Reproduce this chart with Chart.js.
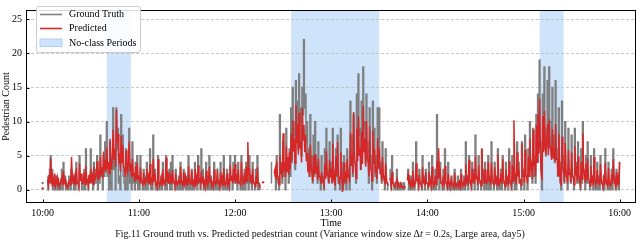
<!DOCTYPE html>
<html><head><meta charset="utf-8">
<script src="https://cdn.jsdelivr.net/npm/chart.js@4"></script>
<style>html,body{margin:0;padding:0;background:#fff;}canvas{display:block;}</style>
</head><body>
<canvas id="c" width="640" height="241"></canvas>
<script>
// samples every half minute, starting at 10:00 (x = minutes after 10:00)
const sampleStep = 0.5;
const hourTicks = [0, 60, 120, 180, 240, 300, 360];
const hourLabels = ['10:00', '11:00', '12:00', '13:00', '14:00', '15:00', '16:00'];
const yTicks = [0, 5, 10, 15, 20, 25];
const noClassPeriods = [[40, 55], [155, 210], [310, 325]];

// one row = 5 minutes
const groundTruth = [
  1, null, null, null, null, null, 2, 0, 1, 3,
  5, 1, 3, 0, 1, 2, 0, 1, 2, 0,
  1, 0, 0, 1, 3, 0, 4, 1, 2, 0,
  1, 0, 0, 2, 2, 0, 3, 1, 1, 0,
  2, 0, 4, 1, 1, 0, 5, 2, 2, 0,
  0, 1, 3, 0, 6, 1, 1, 0, 2, 1,
  6, 1, 2, 0, 4, 1, 1, 3, 5, 0,
  3, 1, 8, 2, 2, 0, 5, 2, 7, 3,
  10, 2, 3, 0, 7, 1, 0, 4, 12, 3,
  5, 0, 12, 6, 9, 1, 2, 0, 11, 4,
  8, 2, 1, 0, 6, 3, 0, 2, 9, 1,
  3, 0, 7, 1, 2, 0, 4, 1, 5, 0,
  2, 0, 5, 1, 1, 0, 3, 1, 0, 2,
  4, 0, 2, 1, 6, 0, 1, 0, 8, 2,
  3, 0, 1, 0, 5, 1, 0, 1, 2, 0,
  4, 1, 1, 0, 5, 0, 2, 1, 3, 0,
  4, 0, 5, 1, 1, 0, 3, 1, 0, 1,
  2, 0, 4, 0, 1, 0, 3, 1, 2, 0,
  2, 0, 5, 1, 0, 1, 3, 0, 1, 0,
  4, 1, 2, 0, 5, 1, 1, 0, 6, 1,
  3, 0, 1, 0, 4, 1, 0, 2, 5, 0,
  2, 0, 1, 0, 4, 1, 0, 1, 3, 0,
  1, 0, 4, 1, 2, 0, 5, 1, 0, 1,
  3, 0, 1, 0, 5, 2, 2, 0, 4, 1,
  5, 1, 2, 0, 4, 1, 1, 0, 5, 2,
  0, 1, 3, 0, 4, 1, 2, 0, 5, 1,
  2, 0, 4, 1, 1, 0, 3, 1, 5, 0,
  1, 0, null, null, null, null, null, null, null, null,
  null, null, null, null, null, 4, 1, null, null, 2,
  3, 0, 5, 2, 1, 0, 11, 3, 4, 1,
  7, 2, 3, 0, 9, 3, 4, 1, 6, 2,
  12, 4, 15, 8, 10, 3, 16, 9, 13, 6,
  17, 10, 12, 5, 15, 11, 22, 12, 14, 7,
  10, 4, 6, 2, 11, 5, 3, 1, 8, 2,
  10, 3, 4, 1, 7, 2, 2, 0, 5, 2,
  1, 0, 6, 2, 9, 3, 3, 1, 7, 2,
  4, 1, 9, 3, 2, 0, 6, 2, 8, 1,
  1, 0, 9, 4, 3, 0, 5, 1, 2, 0,
  6, 2, 3, 0, 13, 5, 8, 2, 11, 4,
  4, 1, 14, 7, 17, 8, 9, 3, 13, 6,
  18, 9, 10, 4, 14, 7, 6, 1, 12, 5,
  3, 0, 13, 6, 9, 2, 5, 1, 12, 4,
  12, 3, 4, 1, 7, 2, 2, 0, 6, 1,
  1, 0, null, 3, 2, 0, 5, 1, 1, 0,
  0, 1, 3, 0, 1, 0, 0, 1, 1, 0,
  0, 1, 0, null, null, 2, 3, 0, 1, 0,
  2, 0, 4, 1, 0, 1, 7, 2, 2, 0,
  3, 1, 1, 0, 5, 1, 2, 0, 3, 1,
  1, 0, 4, 1, 2, 0, 5, 1, 0, 1,
  3, 0, 11, 2, 2, 0, 4, 1, 1, 0,
  3, 0, 6, 1, 1, 0, 4, 1, 0, 1,
  2, 0, 1, 0, 3, 1, 0, 1, 2, 0,
  1, 0, 3, 0, 0, 1, 2, 0, 7, 1,
  2, 0, 5, 1, 1, 0, 4, 1, 3, 0,
  8, 2, 2, 0, 5, 1, 1, 0, 6, 1,
  3, 0, 4, 1, 0, 1, 5, 0, 2, 0,
  7, 1, 1, 0, 4, 1, 2, 0, 6, 1,
  0, 1, 3, 0, 5, 1, 1, 0, 4, 1,
  2, 0, 6, 1, 1, 0, 5, 1, 3, 0,
  2, 0, 7, 2, 4, 1, 1, 0, 7, 2,
  3, 0, 8, 2, 2, 0, 6, 2, 10, 3,
  4, 1, 9, 2, 5, 1, 11, 4, 14, 6,
  19, 7, 3, 0, 14, 6, 18, 9, 5, 8,
  16, 7, 18, 10, 10, 5, 15, 6, 8, 4,
  16, 6, 6, 2, 12, 4, 1, 0, 13, 5,
  4, 1, 10, 2, 2, 0, 9, 3, 3, 1,
  8, 2, 2, 0, 9, 3, 4, 1, 7, 2,
  1, 0, 6, 1, 10, 3, 3, 0, 5, 1,
  7, 1, 1, 0, 5, 2, 2, 0, 6, 1,
  0, 1, 4, 0, 2, 0, 5, 1, 1, 0,
  2, 0, 6, 1, 1, 0, 4, 1, 0, 1,
  3, 0, 6, 2, 1, 0, 3, 1, 2, 0,
  4
];

const predicted = [
  0.2, null, null, null, null, null, 1.5, 0.7, 2.2, 1.0,
  4.6, 1.3, 2.0, 0.6, 1.2, 2.4, 0.6, 1.1, 1.8, 0.5,
  1.2, 0.4, 0.8, 1.6, 2.1, 0.7, 2.8, 1.1, 1.5, 0.6,
  0.7, 0.3, 0.5, 1.2, 1.6, 0.6, 4.8, 1.4, 1.9, 0.8,
  1.8, 0.6, 3.2, 1.0, 1.1, 0.5, 3.9, 1.3, 2.4, 0.9,
  0.9, 1.5, 2.6, 0.8, 3.5, 1.2, 1.4, 0.6, 2.2, 1.0,
  3.1, 1.1, 2.0, 0.8, 3.4, 1.4, 1.6, 2.5, 4.2, 1.5,
  2.8, 1.6, 4.9, 2.2, 3.3, 1.7, 5.6, 2.8, 4.4, 2.5,
  6.2, 3.1, 4.1, 2.4, 7.5, 3.8, 3.0, 5.2, 8.8, 4.5,
  6.0, 3.4, 11.7, 7.0, 8.2, 3.9, 4.6, 2.7, 7.9, 4.1,
  6.5, 3.3, 3.2, 1.9, 5.8, 3.0, 2.5, 4.1, 7.1, 2.8,
  3.9, 1.8, 4.6, 2.2, 2.3, 1.2, 3.4, 1.5, 4.0, 1.6,
  2.1, 0.9, 3.3, 1.4, 1.2, 0.6, 2.5, 1.1, 0.8, 1.7,
  3.1, 1.0, 1.9, 0.8, 3.8, 1.2, 1.5, 0.7, 4.6, 1.3,
  2.4, 0.8, 1.0, 0.5, 4.5, 1.4, 0.6, 1.0, 1.8, 0.7,
  3.0, 1.1, 1.3, 0.6, 4.7, 1.2, 2.0, 0.9, 2.6, 1.0,
  2.2, 0.8, 2.9, 1.2, 1.1, 0.6, 2.4, 1.0, 0.7, 1.3,
  1.6, 0.7, 3.4, 1.1, 1.2, 0.5, 2.6, 1.0, 1.9, 0.8,
  1.7, 0.6, 3.5, 1.2, 0.9, 1.4, 2.8, 0.9, 1.3, 0.6,
  3.1, 1.0, 1.8, 0.7, 3.6, 1.3, 1.5, 0.8, 2.7, 1.1,
  2.0, 0.7, 1.2, 0.5, 2.8, 1.0, 0.6, 1.5, 3.4, 1.2,
  1.7, 0.6, 1.0, 0.5, 3.0, 1.1, 0.8, 1.3, 2.3, 0.9,
  1.4, 0.6, 2.6, 1.0, 1.8, 0.7, 3.2, 1.2, 0.7, 1.1,
  2.4, 0.9, 1.3, 0.6, 3.6, 1.4, 2.0, 1.0, 3.1, 1.3,
  3.8, 1.5, 1.9, 0.9, 3.0, 1.2, 1.2, 0.7, 4.1, 1.6,
  0.9, 1.4, 2.5, 1.0, 3.4, 1.3, 7.0, 2.1, 3.2, 1.1,
  2.2, 0.8, 3.1, 1.2, 1.0, 0.5, 2.0, 0.9, 3.3, 1.0,
  0.8, 0.5, null, null, null, 1.1, null, null, null, null,
  null, null, null, null, null, null, null, null, null, 2.4,
  3.0, 1.4, 4.2, 2.0, 1.6, 0.8, 5.1, 2.3, 3.8, 1.7,
  8.3, 3.2, 3.6, 1.9, 6.4, 2.7, 4.8, 2.2, 5.5, 3.0,
  8.1, 4.3, 10.2, 5.6, 7.4, 3.9, 12.4, 6.8, 9.6, 5.2,
  11.3, 6.1, 7.2, 4.0, 12.0, 7.3, 9.5, 5.5, 8.0, 4.2,
  5.4, 2.6, 3.8, 1.9, 6.6, 3.1, 2.4, 1.2, 5.0, 2.2,
  5.2, 2.4, 3.4, 1.5, 4.6, 2.0, 1.8, 0.9, 2.6, 1.3,
  1.2, 0.7, 3.8, 1.6, 5.7, 2.3, 2.0, 1.0, 4.4, 1.8,
  3.2, 1.2, 6.8, 2.7, 1.5, 0.6, 4.9, 2.0, 7.0, 2.4,
  0.8, 1.8, 5.5, 2.1, -0.3, 1.2, 4.0, 1.6, 2.1, 0.9,
  4.5, 1.9, 2.2, 1.1, 8.4, 3.5, 5.1, 2.4, 11.4, 4.8,
  3.6, 1.7, 9.0, 4.2, 10.8, 5.0, 6.2, 2.9, 8.5, 3.8,
  12.3, 5.6, 7.5, 3.4, 10.1, 4.6, 4.2, 2.0, 9.3, 3.9,
  2.8, 1.3, 8.7, 3.8, 6.0, 2.5, 3.5, 1.6, 7.6, 3.1,
  6.1, 2.4, 3.0, 1.3, 4.8, 2.0, 1.5, 0.8, 3.9, 1.5,
  1.0, 0.6, null, 1.8, 1.3, 0.6, 2.6, 1.0, 0.7, 0.4,
  0.6, 1.2, 1.8, 0.5, 0.9, 0.4, 0.4, 0.8, 0.5, 0.3,
  0.3, 0.5, 0.4, null, null, 1.4, 2.2, 0.8, 1.5, 0.6,
  1.2, 0.5, 2.8, 1.0, 0.6, 1.3, 3.9, 1.4, 1.5, 0.6,
  2.2, 0.9, 0.8, 0.4, 3.3, 1.2, 1.4, 0.6, 2.5, 1.0,
  0.9, 0.5, 2.6, 1.0, 1.3, 0.6, 3.4, 1.2, 0.5, 1.0,
  2.1, 0.8, 4.2, 1.6, 6.1, 2.2, 2.7, 1.0, 1.2, 0.6,
  2.0, 0.7, 3.5, 1.3, 0.8, 0.4, 2.4, 1.0, 0.5, 1.1,
  1.6, 0.6, 0.7, 0.4, 2.5, 0.9, 0.4, 0.8, 1.2, 0.5,
  1.1, 0.5, 2.3, 0.8, 0.5, 1.0, 1.4, 0.6, 3.8, 1.3,
  1.7, 0.7, 4.4, 1.6, 1.0, 0.5, 3.1, 1.2, 2.4, 0.9,
  4.9, 1.7, 1.8, 0.7, 3.6, 1.4, 1.3, 0.6, 6.0, 2.0,
  2.2, 0.9, 3.0, 1.1, 0.9, 1.5, 4.1, 1.3, 1.7, 0.7,
  4.0, 1.4, 1.2, 0.6, 3.3, 1.2, 1.6, 0.7, 5.2, 1.8,
  0.8, 1.3, 2.4, 0.9, 4.5, 1.6, 1.1, 0.5, 3.0, 1.1,
  1.5, 0.6, 4.2, 1.5, 1.0, 0.5, 3.6, 1.3, 10.2, 2.6,
  1.8, 0.8, 5.5, 2.0, 3.1, 1.2, 1.4, 0.7, 6.8, 2.3,
  2.2, 1.0, 5.9, 2.1, 1.9, 0.9, 4.8, 2.0, 7.5, 2.9,
  3.6, 1.6, 8.8, 3.4, 4.2, 2.0, 9.5, 4.1, 11.0, 5.3,
  13.3, 6.2, 2.5, 1.4, 10.8, 5.5, 11.6, 6.4, 5.2, 7.0,
  9.7, 5.1, 10.4, 6.2, 6.0, 4.4, 8.9, 4.6, 5.4, 4.2,
  9.6, 4.5, 4.5, 2.1, 8.2, 3.6, 1.3, 0.6, 7.8, 3.2,
  2.6, 1.2, 6.9, 2.8, 1.9, 0.9, 5.8, 2.3, 2.4, 1.1,
  5.5, 2.0, 1.8, 0.8, 6.4, 2.5, 3.0, 1.3, 4.9, 1.9,
  1.2, 0.6, 4.1, 1.6, 8.3, 2.9, 2.5, 1.0, 3.8, 1.4,
  4.6, 1.7, 1.4, 0.6, 3.5, 1.3, 1.7, 0.7, 4.8, 1.6,
  0.7, 1.2, 2.9, 1.0, 1.5, 0.6, 3.8, 1.3, 1.0, 0.5,
  1.6, 0.7, 4.0, 1.4, 0.8, 0.5, 3.2, 1.1, 0.6, 1.0,
  2.3, 0.9, 4.5, 1.6, 1.0, 0.5, 2.6, 1.0, 1.8, 0.7,
  4.1
];

const FONT = 'Liberation Serif, Times New Roman, serif';
const GRAY = '#7f7f7f', RED = '#d62728', BAND = '#cfe4fa';

function isolatedRadius(arr) {
  return ctx => {
    const i = ctx.dataIndex;
    return (arr[i] != null && arr[i - 1] == null && arr[i + 1] == null) ? 1.2 : 0;
  };
}

const decor = {
  id: 'decor',
  beforeDraw(chart) {
    const { ctx, chartArea: a, scales: { x } } = chart;
    ctx.save();
    ctx.fillStyle = BAND;
    noClassPeriods.forEach(([s, e]) => {
      const x0 = x.getPixelForValue(s), x1 = x.getPixelForValue(e);
      ctx.fillRect(x0, a.top, x1 - x0, a.bottom - a.top);
    });
    ctx.restore();
  },
  afterDraw(chart) {
    const { ctx, chartArea: a, scales: { x, y } } = chart;
    ctx.save();
    ctx.strokeStyle = '#000';
    ctx.lineWidth = 1;
    ctx.strokeRect(Math.round(a.left) + 0.5, Math.round(a.top) + 0.5,
      Math.round(a.right - a.left) - 1, Math.round(a.bottom - a.top) - 1);
    ctx.beginPath();
    hourTicks.forEach(v => {
      const px = Math.round(x.getPixelForValue(v)) + 0.5;
      ctx.moveTo(px, a.bottom); ctx.lineTo(px, a.bottom - 3.5);
    });
    yTicks.forEach(v => {
      const py = Math.round(y.getPixelForValue(v)) + 0.5;
      ctx.moveTo(a.left, py); ctx.lineTo(a.left + 3.5, py);
    });
    ctx.stroke();

    const lx = 36.5, ly = 6.5, lw = 104, lh = 46, r = 2.5;
    ctx.beginPath();
    ctx.moveTo(lx + r, ly);
    ctx.arcTo(lx + lw, ly, lx + lw, ly + lh, r);
    ctx.arcTo(lx + lw, ly + lh, lx, ly + lh, r);
    ctx.arcTo(lx, ly + lh, lx, ly, r);
    ctx.arcTo(lx, ly, lx + lw, ly, r);
    ctx.closePath();
    ctx.fillStyle = 'rgba(255,255,255,0.85)';
    ctx.fill();
    ctx.strokeStyle = '#cccccc';
    ctx.lineWidth = 1;
    ctx.stroke();
    ctx.lineWidth = 1.6;
    ctx.strokeStyle = GRAY;
    ctx.beginPath(); ctx.moveTo(40, 14.5); ctx.lineTo(62, 14.5); ctx.stroke();
    ctx.strokeStyle = RED;
    ctx.beginPath(); ctx.moveTo(40, 28.5); ctx.lineTo(62, 28.5); ctx.stroke();
    ctx.fillStyle = BAND;
    ctx.fillRect(40, 39, 22, 7.5);
    ctx.strokeStyle = '#9fc8ee';
    ctx.lineWidth = 0.8;
    ctx.strokeRect(40, 39, 22, 7.5);
    ctx.fillStyle = '#000';
    ctx.font = '10px ' + FONT;
    ctx.textBaseline = 'middle';
    ctx.textAlign = 'left';
    ctx.fillText('Ground Truth', 69, 14.5);
    ctx.fillText('Predicted', 69, 28.5);
    ctx.fillText('No-class Periods', 69, 43);

    const p1 = 'Fig.11 Ground truth vs. Predicted pedestrian count (Variance window size \u0394';
    const p2 = 't';
    const p3 = ' = 0.2s, Large area, day5)';
    const fN = '10px ' + FONT, fI = 'italic 10px ' + FONT;
    ctx.font = fN; const w1 = ctx.measureText(p1).width, w3 = ctx.measureText(p3).width;
    ctx.font = fI; const w2 = ctx.measureText(p2).width;
    let cx = 320 - (w1 + w2 + w3) / 2;
    const cy = 234.5;
    ctx.fillStyle = '#111';
    ctx.font = fN; ctx.fillText(p1, cx, cy); cx += w1;
    ctx.font = fI; ctx.fillText(p2, cx, cy); cx += w2;
    ctx.font = fN; ctx.fillText(p3, cx, cy);
    ctx.restore();
  }
};

new Chart(document.getElementById('c'), {
  type: 'line',
  data: {
    datasets: [
      {
        label: 'Predicted',
        data: predicted.map((v, i) => ({ x: i * sampleStep, y: v })),
        borderColor: RED, backgroundColor: RED, borderWidth: 1.5,
        pointRadius: isolatedRadius(predicted), pointBorderWidth: 0,
        pointBackgroundColor: RED, spanGaps: false, order: 0, tension: 0
      },
      {
        label: 'Ground Truth',
        data: groundTruth.map((v, i) => ({ x: i * sampleStep, y: v })),
        borderColor: GRAY, backgroundColor: GRAY, borderWidth: 1.5, stepped: 'middle',
        pointRadius: isolatedRadius(groundTruth), pointBorderWidth: 0,
        pointBackgroundColor: GRAY, spanGaps: false, order: 1
      }
    ]
  },
  options: {
    responsive: false, animation: false, devicePixelRatio: 1,
    layout: { padding: { left: 0, right: 3, top: 2, bottom: 12 } },
    plugins: { legend: { display: false }, tooltip: { enabled: false } },
    scales: {
      x: {
        type: 'linear', min: -10.4, max: 370.15,
        afterBuildTicks: s => { s.ticks = hourTicks.map(v => ({ value: v })); },
        afterFit: s => { s.height = 26; },
        ticks: {
          callback: (v, i) => hourLabels[i], autoSkip: false, maxRotation: 0,
          font: { family: FONT, size: 10 }, color: '#000', padding: -4
        },
        grid: { display: false },
        border: { display: false },
        title: { display: true, text: 'Time', font: { family: FONT, size: 10 }, color: '#000', padding: 0 }
      },
      y: {
        min: -1.93, max: 26.37,
        afterBuildTicks: s => { s.ticks = yTicks.map(v => ({ value: v })); },
        afterFit: s => { s.width = 26; },
        ticks: { font: { family: FONT, size: 10 }, color: '#000', padding: 4 },
        grid: { color: '#bdbdbd', lineWidth: 0.8, drawTicks: false },
        border: { display: false, dash: [3, 2] },
        title: { display: true, text: 'Pedestrian Count', font: { family: FONT, size: 10 }, color: '#000', padding: 0 }
      }
    }
  },
  plugins: [decor]
});
</script>
</body></html>
